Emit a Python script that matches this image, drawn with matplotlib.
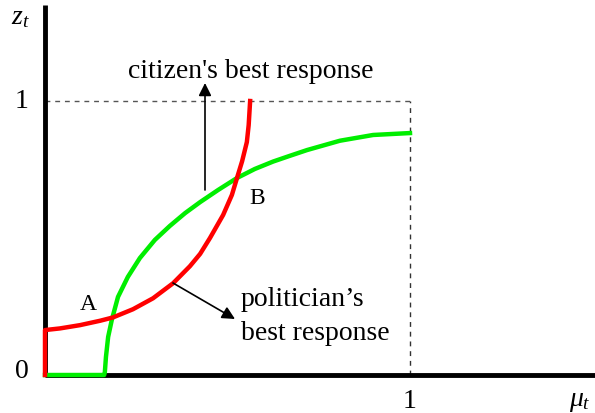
import matplotlib
matplotlib.use("Agg")
import matplotlib.pyplot as plt

plt.rcParams['font.family'] = ['Liberation Serif', 'DejaVu Serif']
plt.rcParams['mathtext.fontset'] = 'custom'
plt.rcParams['mathtext.rm'] = 'Liberation Serif'
plt.rcParams['mathtext.it'] = 'Liberation Serif:italic'

# Politician's best response (red)
red_x = [0.0, 0.0, 0.041, 0.096, 0.151, 0.186, 0.241, 0.296, 0.351, 0.397, 0.425,
         0.452, 0.488, 0.512, 0.526, 0.540, 0.553, 0.558, 0.562]
red_y = [0.0, 0.164, 0.170, 0.182, 0.198, 0.210, 0.240, 0.280, 0.335, 0.397, 0.442,
         0.500, 0.584, 0.657, 0.719, 0.780, 0.850, 0.912, 1.0]

# Citizen's best response (green)
green_x = [0.0, 0.162, 0.164, 0.167, 0.173, 0.183, 0.200, 0.227, 0.260, 0.301, 0.342,
           0.384, 0.425, 0.474, 0.526, 0.575, 0.625, 0.671, 0.718, 0.808, 0.899, 1.0]
green_y = [0.0, 0.0, 0.011, 0.066, 0.139, 0.201, 0.285, 0.358, 0.427, 0.493, 0.544,
           0.591, 0.631, 0.675, 0.719, 0.752, 0.779, 0.800, 0.821, 0.855, 0.876, 0.883]

x_ticks = [0, 1]
y_ticks = [0, 1]

fig = plt.figure(figsize=(5.95, 4.13), dpi=100)
ax = fig.add_axes([0, 0, 1, 1])
ax.set_xlim(-45 / 365, 550 / 365)
ax.set_ylim(-38 / 274, 375 / 274)
ax.axis('off')

# axes
ax.plot([0, 0], [0, 370 / 274], color='black', lw=3.5, solid_capstyle='butt', zorder=2)
ax.plot([0, 550 / 365], [0, 0], color='black', lw=3.5, solid_capstyle='butt', zorder=2)

# dashed guides
ax.plot([0, 1], [1, 1], color='#555555', lw=1.0, ls=(0, (3.5, 3.5)), zorder=1)
ax.plot([1, 1], [0, 1], color='#333333', lw=1.0, ls=(0, (3.5, 3.5)), zorder=1)

# curves
ax.plot(green_x, green_y, color='#00ee00', lw=3.2, solid_joinstyle='round', zorder=3)
ax.plot(red_x, red_y, color='#ff0000', lw=3.2, solid_joinstyle='round', zorder=4)

fs = 20
# tick labels
ax.text(-23 / 365, y_ticks[1], str(y_ticks[1]), fontsize=fs, ha='center', va='center')
ax.text(-23 / 365, 3 / 274, str(y_ticks[0]), fontsize=fs, ha='center', va='center')
ax.text(x_ticks[1], -26 / 274, str(x_ticks[1]), fontsize=fs, ha='center', va='center')

# axis labels
ax.text(-25 / 365, 357 / 274, r'$z_t$', fontsize=fs, ha='center', va='center')
ax.text(535 / 365, -27 / 274, r'$\mu_t$', fontsize=fs, ha='center', va='center')

# points
ax.text(43 / 365, 70 / 274, 'A', fontsize=fs - 3, ha='center', va='center')
ax.text(212 / 365, 177 / 274, 'B', fontsize=fs - 3, ha='center', va='center')

# annotations
ax.annotate('', xy=(160 / 365, 292 / 274), xytext=(160 / 365, 185 / 274),
            arrowprops=dict(arrowstyle='-|>', color='black', lw=1.2, mutation_scale=19,
                            shrinkA=0, shrinkB=0), zorder=5)
ax.text(206 / 365, 303 / 274, "citizen's best response", fontsize=fs, ha='center', va='center')

ax.annotate('', xy=(190 / 365, 56 / 274), xytext=(128 / 365, 92 / 274),
            arrowprops=dict(arrowstyle='-|>', color='black', lw=1.2, mutation_scale=19,
                            shrinkA=0, shrinkB=0), zorder=5)
ax.text(196 / 365, 75 / 274, "politician\u2019s", fontsize=fs, ha='left', va='center')
ax.text(196 / 365, 42 / 274, "best response", fontsize=fs, ha='left', va='center')

fig.savefig('out.png', dpi=100)
